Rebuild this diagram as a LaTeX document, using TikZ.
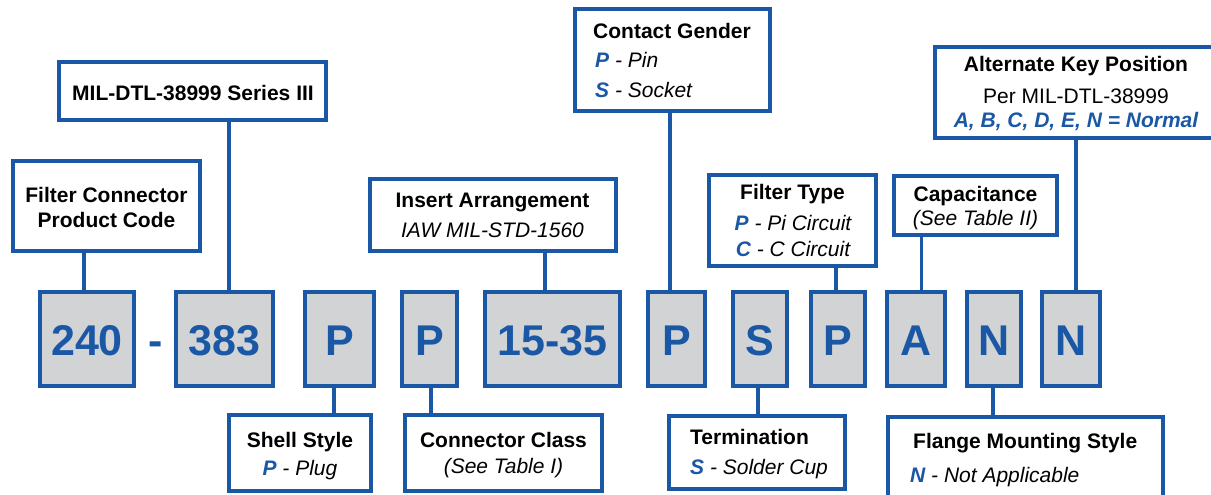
\documentclass[tikz,border=0pt]{standalone}
\usepackage{fontspec}
\setmainfont{Liberation Sans}
\definecolor{cblue}{RGB}{26,88,165}
\definecolor{cgray}{RGB}{209,211,212}
\tikzset{
  lbl/.style={draw=cblue, line width=3.7pt, fill=white, inner sep=0pt, outer sep=0pt},
  code/.style={draw=cblue, line width=3.7pt, fill=cgray, inner sep=0pt, outer sep=0pt, minimum height=94.3pt},
  conn/.style={draw=cblue, line width=3.7pt},
  big/.style={font=\fontsize{43}{50}\selectfont\bfseries, text=cblue, anchor=base, inner sep=0pt},
  tb/.style={font=\fontsize{21}{25}\selectfont\bfseries, anchor=base, inner sep=0pt},
  tn/.style={font=\fontsize{21}{25}\selectfont, anchor=base, inner sep=0pt},
  tl/.style={anchor=base west},
}
\newcommand{\bl}[1]{\textcolor{cblue}{\bfseries\itshape #1}}
\begin{document}
\begin{tikzpicture}[x=1pt,y=-1pt]
\useasboundingbox (0,0) rectangle (1211,495);
\clip (0,0) rectangle (1211,495);
% code boxes
\node[code, minimum width=94.3pt] (c240) at (87,339) {};
\node[code, minimum width=97.3pt] (c383) at (224.5,339) {};
\node[code, minimum width=69.3pt] (cP1) at (339.5,339) {};
\node[code, minimum width=55.3pt] (cP2) at (429.5,339) {};
\node[code, minimum width=135.3pt] (c1535) at (552.5,339) {};
\node[code, minimum width=57.3pt] (cP3) at (676.5,339) {};
\node[code, minimum width=54.3pt] (cS) at (760,339) {};
\node[code, minimum width=54.3pt] (cP4) at (838,339) {};
\node[code, minimum width=58.3pt] (cA) at (916,339) {};
\node[code, minimum width=54.3pt] (cN1) at (994,339) {};
\node[code, minimum width=58.3pt] (cN2) at (1071,339) {};
% label boxes
\node[lbl, minimum width=187.3pt, minimum height=90.3pt] (lFilter) at (106.5,206) {};
\node[lbl, minimum width=267.3pt, minimum height=58.3pt] (lMIL) at (192.5,91) {};
\node[lbl, minimum width=246.3pt, minimum height=72.3pt] (lInsert) at (493,215) {};
\node[lbl, minimum width=195.3pt, minimum height=102.3pt] (lGender) at (672.5,60) {};
\node[lbl, minimum width=167.3pt, minimum height=91.3pt] (lFType) at (792.5,220.5) {};
\node[lbl, minimum width=163.3pt, minimum height=59.3pt] (lCap) at (975.5,205.5) {};
\node[lbl, minimum width=288.3pt, minimum height=91.3pt] (lAlt) at (1079,92.5) {};
\node[lbl, minimum width=142.3pt, minimum height=76.3pt] (lShell) at (300,453) {};
\node[lbl, minimum width=197.3pt, minimum height=76.3pt] (lClass) at (503.5,453) {};
\node[lbl, minimum width=176.3pt, minimum height=73.3pt] (lTerm) at (757,452.5) {};
\node[lbl, minimum width=275.3pt, minimum height=86.3pt] (lFlange) at (1025.5,460) {};
% connectors
\draw[conn] ([xshift=-3pt]c240.north) -- ([xshift=-3pt]c240.north |- lFilter.south);
\draw[conn] ([xshift=4.5pt]c383.north) -- ([xshift=4.5pt]c383.north |- lMIL.south);
\draw[conn] ([xshift=-7.5pt]c1535.north) -- ([xshift=-7.5pt]c1535.north |- lInsert.south);
\draw[conn] ([xshift=-6.5pt]cP3.north) -- ([xshift=-6.5pt]cP3.north |- lGender.south);
\draw[conn] ([xshift=-2pt]cP4.north) -- ([xshift=-2pt]cP4.north |- lFType.south);
\draw[conn] ([xshift=5.5pt]cA.north) -- ([xshift=5.5pt]cA.north |- lCap.south);
\draw[conn] ([xshift=5pt]cN2.north) -- ([xshift=5pt]cN2.north |- lAlt.south);
\draw[conn] ([xshift=-5.5pt]cP1.south) -- ([xshift=-5.5pt]cP1.south |- lShell.north);
\draw[conn] ([xshift=1.5pt]cP2.south) -- ([xshift=1.5pt]cP2.south |- lClass.north);
\draw[conn] ([xshift=-2pt]cS.south) -- ([xshift=-2pt]cS.south |- lTerm.north);
\draw[conn] ([xshift=-1pt]cN1.south) -- ([xshift=-1pt]cN1.south |- lFlange.north);
% code texts
\node[big] (t240) at (87,355) {240};
\node[big] (tdash) at (156,355) {-};
\node[big] (t383) at (224.5,355) {383};
\node[big] (tP1) at (339.5,355) {P};
\node[big] (tP2) at (429.5,355) {P};
\node[big] (t1535) at (552.5,355) {15-35};
\node[big] (tP3) at (676.5,355) {P};
\node[big] (tS) at (760,355) {S};
\node[big] (tP4) at (838,355) {P};
\node[big] (tA) at (916,355) {A};
\node[big] (tN1) at (994,355) {N};
\node[big] (tN2) at (1071,355) {N};
% label texts
\node[tb] (f1) at (106.5,202) {Filter Connector};
\node[tb] (f2) at (106.5,227) {Product Code};
\node[tb] (m1) at (193,100) {MIL-DTL-38999 Series III};
\node[tb] (i1) at (492.5,207) {Insert Arrangement};
\node[tn] (i2) at (492.5,237) {\itshape IAW MIL-STD-1560};
\node[tb, tl] (g1) at (593,39) {Contact Gender};
\node[tn, tl] (g2) at (595,68) {\bl{P}\itshape{} - Pin};
\node[tn, tl] (g3) at (595,98) {\bl{S}\itshape{} - Socket};
\node[tb] (ft1) at (792.5,199) {Filter Type};
\node[tn] (ft2) at (793,230) {\bl{P}\itshape{} - Pi Circuit};
\node[tn] (ft3) at (793,256) {\bl{C}\itshape{} - C Circuit};
\node[tb] (cp1) at (975.5,201) {Capacitance};
\node[tn] (cp2) at (975.5,225) {\itshape (See Table II)};
\node[tb] (a1) at (1076,72) {Alternate Key Position};
\node[tn] (a2) at (1076,103) {Per MIL-DTL-38999};
\node[tn] (a3) at (1076,128) {\bl{A, B, C, D, E, N = Normal}};
\node[tb] (s1) at (300,447) {Shell Style};
\node[tn] (s2) at (300,475) {\bl{P}\itshape{} - Plug};
\node[tb] (k1) at (503.5,447) {Connector Class};
\node[tn] (k2) at (503.5,473) {\itshape (See Table I)};
\node[tb, tl] (e1) at (690,444) {Termination};
\node[tn, tl] (e2) at (690,474) {\bl{S}\itshape{} - Solder Cup};
\node[tb, tl] (fl1) at (913,448) {Flange Mounting Style};
\node[tn, tl] (fl2) at (910,482) {\bl{N}\itshape{} - Not Applicable};
\end{tikzpicture}
\end{document}
